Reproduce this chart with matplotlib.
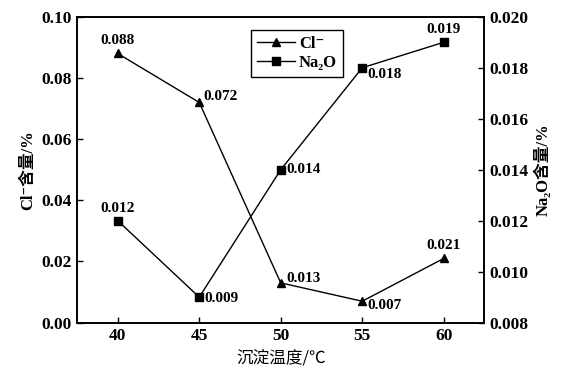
import matplotlib.pyplot as plt

FAM = ['Liberation Serif', 'DejaVu Serif', 'Noto Sans CJK SC']
plt.rcParams['font.family'] = FAM
plt.rcParams['font.weight'] = 'bold'
plt.rcParams['xtick.direction'] = 'in'
plt.rcParams['ytick.direction'] = 'in'

temps = [40, 45, 50, 55, 60]
cl = [0.088, 0.072, 0.013, 0.007, 0.021]
na2o = [0.012, 0.009, 0.014, 0.018, 0.019]
cl_labels = ['0.088', '0.072', '0.013', '0.007', '0.021']
na_labels = ['0.012', '0.009', '0.014', '0.018', '0.019']

fig, ax = plt.subplots(figsize=(5.66, 3.73), dpi=100)
fig.subplots_adjust(left=0.136, right=0.856, top=0.955, bottom=0.135)
ax2 = ax.twinx()

l1, = ax.plot(temps, cl, color='black', marker='^', markersize=6, lw=1, label='Cl⁻')
l2, = ax2.plot(temps, na2o, color='black', marker='s', markersize=6, lw=1, label='Na₂O')

ax.set_xlim(37.5, 62.5)
ax.set_ylim(0, 0.10)
ax2.set_ylim(0.008, 0.020)
ax.set_xticks(temps)
ax.set_yticks([0, 0.02, 0.04, 0.06, 0.08, 0.10])
ax2.set_yticks([0.008, 0.010, 0.012, 0.014, 0.016, 0.018, 0.020])
ax.set_yticklabels(['0.00', '0.02', '0.04', '0.06', '0.08', '0.10'])
ax2.set_yticklabels(['0.008', '0.010', '0.012', '0.014', '0.016', '0.018', '0.020'])
for a in (ax, ax2):
    a.tick_params(labelsize=12.5, width=1, length=4)
    for s in a.spines.values():
        s.set_linewidth(1.2)

# Cl- point labels
cl_off = [(0, 9, 'center'), (3, 4, 'left'), (4, 3, 'left'), (4, -3, 'left'), (0, 9, 'center')]
for x, y, t, (dx, dy, ha) in zip(temps, cl, cl_labels, cl_off):
    ax.annotate(t, (x, y), xytext=(dx, dy), textcoords='offset points', ha=ha, va='center', fontsize=11, fontweight='bold')

na_off = [(0, 9, 'center'), (4, -1, 'left'), (4, 0, 'left'), (4, -5, 'left'), (0, 9, 'center')]
for x, y, t, (dx, dy, ha) in zip(temps, na2o, na_labels, na_off):
    ax2.annotate(t, (x, y), xytext=(dx, dy), textcoords='offset points', ha=ha, va='center', fontsize=11, fontweight='bold')

ax.set_xlabel('沉淀温度/℃', fontsize=12, fontweight='normal', family=['Noto Sans CJK SC'])
ax.set_ylabel('Cl⁻含量/%', fontsize=12, fontweight='bold')
ax2.set_ylabel('Na₂O含量/%', fontsize=12, fontweight='bold')

leg = ax.legend(handles=[l1, l2], loc='upper center', bbox_to_anchor=(0.54, 0.985), fontsize=12,
                fancybox=False, edgecolor='black', framealpha=1, handlelength=2.3,
                borderpad=0.35, labelspacing=0.2, handletextpad=0.2)
leg.get_frame().set_linewidth(1)

fig.savefig('out.png', dpi=100)
